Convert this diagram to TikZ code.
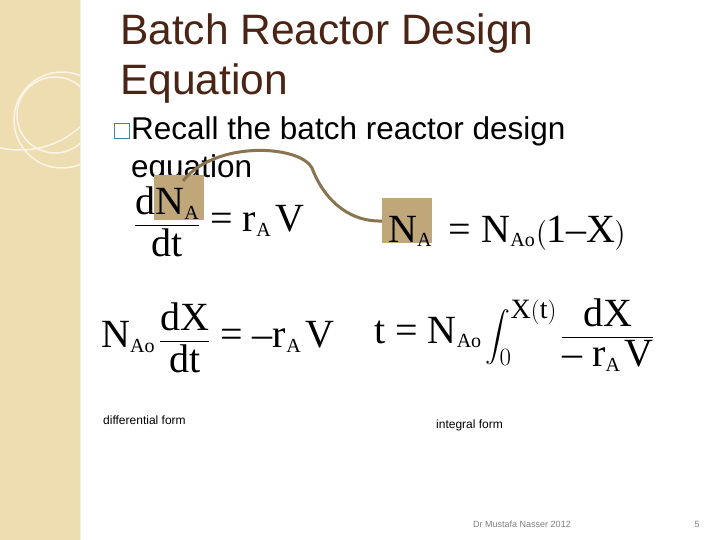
\documentclass[tikz,border=0pt]{standalone}
\usepackage{amsmath}
\usepackage{fontspec}
\setmainfont{Liberation Serif}
\setsansfont{Liberation Sans}
\newcommand{\sbx}[1]{_{\scriptscriptstyle\mathrm{#1}}}
\newcommand{\eqs}{\text{ = }}
\newcommand{\mns}{\text{– }}
\begin{document}
\begin{tikzpicture}[x=1pt,y=-1pt,
  title/.style={font=\sffamily\fontsize{42.5}{46}\selectfont,text=titlebrown,anchor=base west,inner sep=0},
  body/.style={font=\sffamily\fontsize{31.5}{34}\selectfont,anchor=base west,inner sep=0},
  eq/.style={font=\fontsize{40}{44}\selectfont,inner sep=0},
  small/.style={font=\sffamily\fontsize{12}{14}\selectfont,anchor=base west,inner sep=0},
  foot/.style={font=\sffamily\fontsize{9}{11}\selectfont,text=gray,anchor=base,inner sep=0},
  hl/.style={fill=hlbrown,draw=none}]
\definecolor{titlebrown}{HTML}{4A2414}
\definecolor{strip}{HTML}{EFDDB2}
\definecolor{hlbrown}{HTML}{BFA77A}
\definecolor{curve}{HTML}{8A7450}
\definecolor{teal}{HTML}{3A8A9A}
\useasboundingbox (0,0) rectangle (720,540);
\fill[white] (0,0) rectangle (720,540);
\fill[strip] (0,0) rectangle (80,540);
\begin{scope}
\clip (0,0) rectangle (80,540);
\draw[white!70!strip,line width=1.5] (20,60) circle (90);
\draw[white!70!strip,line width=1.5] (55,115) circle (38);
\draw[white!70!strip,line width=1.5] (62,120) circle (48);
\end{scope}
\draw[white!60!strip,line width=1] (80,0) -- (80,540);
% title
\node[title] (t1) at (120,45) {Batch Reactor Design};
\node[title] (t2) at (120,95) {Equation};
% bullet
\node[draw=teal,line width=0.9,minimum size=15,inner sep=0] (bul) at (121.5,131) {};
\node[body] (b1) at (131,140) {Recall the batch reactor design};
\node[body] (b2) at (131,178) {equation};
% highlights
\fill[hl] (154,175) rectangle (204,220);
\fill[hl] (382,198) rectangle (432,243);
% curve
\coordinate (c1) at (183,181);
\coordinate (c2) at (382,221);
\draw[curve,line width=3] (c1) .. controls (215,140) and (300,145) .. (312,168) .. controls (322,195) and (345,222) .. (c2);
% equations
\node[eq,anchor=west] (e1) at (134,222) {$\dfrac{\mathrm{dN}\sbx{A}}{\mathrm{dt}}\eqs\mathrm{r}\sbx{A}\mathrm{\,V}$};
\node[eq,anchor=base west] (e2) at (388,242) {$\mathrm{N}\sbx{A}\;\eqs\mathrm{N}\sbx{Ao}\bigl(\mathrm{1}\text{–}\mathrm{X}\bigr)$};
\node[eq,anchor=west] (e3) at (101,338) {$\mathrm{N}\sbx{Ao}\,\dfrac{\mathrm{dX}}{\mathrm{dt}}\eqs\text{–}\mathrm{r}\sbx{A}\mathrm{\,V}$};
\node[eq,anchor=west] (e4) at (374,335) {$\mathrm{t}\eqs\mathrm{N}\sbx{Ao}\displaystyle\int_0^{\mathrm{X(t)}}\dfrac{\mathrm{dX}}{\mns\mathrm{r}\sbx{A}\mathrm{\,V}}$};
% labels
\node[small] (l1) at (103,424) {differential form};
\node[small] (l2) at (436,428) {integral form};
\node[foot] (f1) at (522,527) {Dr Mustafa Nasser 2012};
\node[foot] (f2) at (697,527) {5};
\end{tikzpicture}
\end{document}
